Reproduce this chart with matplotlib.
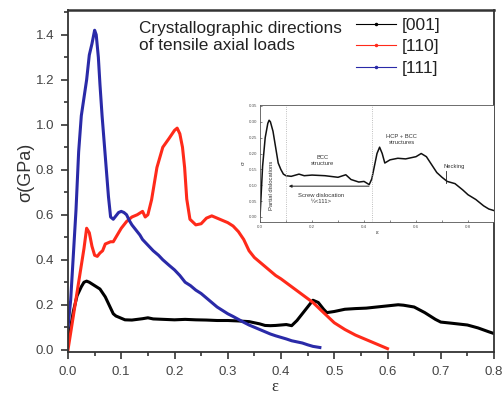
import matplotlib
matplotlib.use("Agg")
import matplotlib.pyplot as plt
from matplotlib.lines import Line2D
from matplotlib.ticker import MultipleLocator
import numpy as np

plt.rcParams['font.family'] = ['Liberation Sans', 'DejaVu Sans']

# ---------------- data ----------------
x111 = [0, 0.005, 0.010, 0.015, 0.020, 0.025, 0.030, 0.035, 0.040, 0.045, 0.050, 0.053,
        0.057, 0.060, 0.064, 0.068, 0.072, 0.076, 0.080, 0.085, 0.090, 0.095, 0.100,
        0.105, 0.110, 0.115, 0.120, 0.130, 0.135, 0.140, 0.150, 0.160, 0.170, 0.178,
        0.190, 0.200, 0.210, 0.220, 0.230, 0.240, 0.250, 0.260, 0.270, 0.280, 0.290,
        0.300, 0.310, 0.320, 0.330, 0.340, 0.350, 0.360, 0.370, 0.380, 0.390, 0.400,
        0.410, 0.420, 0.430, 0.440, 0.450, 0.460, 0.473]
y111 = [0.10, 0.22, 0.42, 0.62, 0.88, 1.04, 1.12, 1.20, 1.31, 1.36, 1.42, 1.40,
        1.30, 1.18, 1.04, 0.92, 0.80, 0.68, 0.59, 0.58, 0.595, 0.61, 0.615,
        0.61, 0.60, 0.575, 0.555, 0.525, 0.51, 0.49, 0.465, 0.44, 0.42, 0.40,
        0.375, 0.355, 0.33, 0.30, 0.285, 0.265, 0.25, 0.23, 0.21, 0.19, 0.175,
        0.16, 0.148, 0.135, 0.122, 0.11, 0.10, 0.09, 0.08, 0.07, 0.062, 0.055,
        0.048, 0.04, 0.035, 0.03, 0.022, 0.015, 0.01]

x110 = [0, 0.01, 0.02, 0.03, 0.035, 0.04, 0.045, 0.05, 0.055, 0.06, 0.065, 0.07, 0.075,
        0.08, 0.085, 0.09, 0.10, 0.11, 0.12, 0.13, 0.14, 0.145, 0.15, 0.157, 0.167,
        0.178, 0.19, 0.20, 0.205, 0.21, 0.215, 0.219, 0.223, 0.229, 0.24, 0.25, 0.26,
        0.27, 0.28, 0.29, 0.30, 0.31, 0.32, 0.33, 0.34, 0.35, 0.36, 0.37, 0.38, 0.39,
        0.40, 0.42, 0.44, 0.46, 0.48, 0.50, 0.52, 0.54, 0.56, 0.58, 0.59, 0.60]
y110 = [0.0, 0.15, 0.30, 0.45, 0.54, 0.52, 0.46, 0.42, 0.415, 0.43, 0.44, 0.47, 0.475,
        0.48, 0.48, 0.50, 0.54, 0.57, 0.59, 0.60, 0.615, 0.59, 0.60, 0.667, 0.81,
        0.90, 0.94, 0.975, 0.985, 0.96, 0.90, 0.81, 0.67, 0.58, 0.555, 0.56, 0.585,
        0.595, 0.585, 0.575, 0.565, 0.55, 0.525, 0.49, 0.44, 0.41, 0.39, 0.37, 0.35, 0.33,
        0.315, 0.28, 0.245, 0.21, 0.165, 0.12, 0.09, 0.065, 0.045, 0.025, 0.015, 0.005]

x001 = [0, 0.005, 0.01, 0.017, 0.025, 0.03, 0.035, 0.04, 0.05, 0.06, 0.07, 0.079, 0.085,
        0.09, 0.10, 0.107, 0.12, 0.13, 0.14, 0.15, 0.16, 0.18, 0.20, 0.22, 0.24, 0.26,
        0.28, 0.30, 0.32, 0.34, 0.36, 0.37, 0.38, 0.39, 0.40, 0.41, 0.42, 0.43, 0.44,
        0.45, 0.46, 0.47, 0.48, 0.486, 0.50, 0.52, 0.54, 0.56, 0.58, 0.60, 0.62, 0.63,
        0.65, 0.67, 0.69, 0.70, 0.72, 0.75, 0.77, 0.79, 0.80]
y001 = [0.04, 0.10, 0.17, 0.24, 0.28, 0.30, 0.305, 0.30, 0.285, 0.27, 0.235, 0.19, 0.16,
        0.15, 0.14, 0.133, 0.132, 0.135, 0.138, 0.142, 0.137, 0.135, 0.133, 0.135, 0.133, 0.132,
        0.13, 0.13, 0.128, 0.125, 0.115, 0.108, 0.107, 0.108, 0.11, 0.112, 0.107, 0.13, 0.16,
        0.19, 0.22, 0.21, 0.18, 0.165, 0.17, 0.18, 0.183, 0.185, 0.19, 0.195, 0.20, 0.198,
        0.19, 0.165, 0.135, 0.123, 0.118, 0.11, 0.097, 0.08, 0.072]

xin = [0.0, 0.005, 0.01, 0.02, 0.03, 0.035, 0.04, 0.05, 0.06, 0.07, 0.08, 0.09, 0.10,
       0.12, 0.15, 0.17, 0.20, 0.25, 0.30, 0.33, 0.35, 0.38, 0.40, 0.42, 0.43, 0.44,
       0.45, 0.46, 0.47, 0.48, 0.50, 0.53, 0.56, 0.60, 0.62, 0.64, 0.66, 0.68, 0.70,
       0.72, 0.75, 0.78, 0.80, 0.83, 0.86, 0.88, 0.90]
yin = [0.0, 0.08, 0.16, 0.25, 0.295, 0.305, 0.30, 0.27, 0.22, 0.17, 0.15, 0.135, 0.13,
       0.128, 0.135, 0.13, 0.132, 0.13, 0.125, 0.133, 0.118, 0.11, 0.112, 0.102, 0.12, 0.16,
       0.20, 0.22, 0.20, 0.17, 0.18, 0.185, 0.183, 0.19, 0.2, 0.19, 0.165, 0.14, 0.125,
       0.112, 0.105, 0.085, 0.07, 0.055, 0.035, 0.025, 0.02]

labels = ['[001]', '[110]', '[111]']
colors = ['#000000', '#ff2a1a', '#2a2aa8']

# ---------------- figure ----------------
fig = plt.figure(figsize=(5.04, 3.96), dpi=100)
ax = fig.add_axes([68/504, 1-352/396, (494-68)/504, (352-10)/396])

tc = '#333333'
ax.plot(x001, y001, color=colors[0], lw=2.2)
ax.plot(x110, y110, color=colors[1], lw=2.2)
ax.plot(x111, y111, color=colors[2], lw=2.2)

ax.set_xlim(0, 0.8)
ax.set_ylim(-0.01, 1.51)
ax.xaxis.set_major_locator(MultipleLocator(0.1))
ax.xaxis.set_minor_locator(MultipleLocator(0.05))
ax.yaxis.set_major_locator(MultipleLocator(0.2))
ax.yaxis.set_minor_locator(MultipleLocator(0.1))
ax.tick_params(which='major', direction='out', length=5, width=1.2, colors=tc,
               labelsize=9.5, labelcolor='#444444', pad=5)
ax.tick_params(which='minor', direction='out', length=3, width=1.2, colors=tc)
ax.set_yticks(np.arange(0, 1.41, 0.2))
ax.yaxis.set_major_formatter(plt.FuncFormatter(lambda v, p: f'{v:.1f}'))
ax.xaxis.set_major_formatter(plt.FuncFormatter(lambda v, p: f'{v:.1f}'))
for s in ax.spines.values():
    s.set_linewidth(1.3)
    s.set_color(tc)
ax.spines['top'].set_linewidth(1.8)

ax.set_ylabel('σ(GPa)', fontsize=13, color='#333333')
ax.yaxis.set_label_coords(-0.08, 0.526)
ax.set_xlabel('ε', fontsize=12, color='#333333', family=['Liberation Serif', 'DejaVu Serif'])
ax.xaxis.set_label_coords(0.486, -0.08)

fig.text(139/504, 1-37/396, 'Crystallographic directions\nof tensile axial loads',
         fontsize=12.4, color='#222222', va='center', ha='left', linespacing=1.2)

handles = [Line2D([], [], color=c, lw=0.8, marker='.', markersize=3) for c in colors]
leg = ax.legend(handles, labels, loc='upper left', bbox_to_anchor=(356/504, 1-18/396),
                bbox_transform=fig.transFigure, frameon=False, fontsize=12.5,
                handlelength=2.3, handletextpad=0.35, labelspacing=0.35, borderpad=0,
                borderaxespad=0, numpoints=1)
for t in leg.get_texts():
    t.set_color('#222222')

# ---------------- inset ----------------
ia = fig.add_axes([260/504, 1-222/396, (494-260)/504, (222-105)/396])
ia.plot(xin, yin, color='#111111', lw=1.1)
ia.set_xlim(0, 0.9)
ia.set_ylim(-0.016, 0.353)
ia.set_xticks([0.0, 0.2, 0.4, 0.6, 0.8])
ia.xaxis.set_minor_locator(MultipleLocator(0.1))
ia.set_yticks(np.arange(0, 0.351, 0.05))
ia.yaxis.set_major_formatter(plt.FuncFormatter(lambda v, p: f'{v:.2f}'))
ia.xaxis.set_major_formatter(plt.FuncFormatter(lambda v, p: f'{v:.1f}'))
ia.tick_params(which='both', direction='in', length=1.5, width=0.5, labelsize=3.2,
               colors='#555555', pad=2)
for s in ia.spines.values():
    s.set_linewidth(0.6)
    s.set_color('#555555')
ia.set_ylabel('σ', fontsize=4.5, labelpad=2, color='#333333')
ia.set_xlabel('ε', fontsize=4.5, labelpad=1, color='#333333')

for xv in (0.1, 0.43):
    ia.axvline(xv, color='#aaaaaa', lw=0.6, ls=':')
ia.annotate('', xy=(0.1, 0.097), xytext=(0.43, 0.097),
            arrowprops=dict(arrowstyle='-|>', color='#222222', lw=0.7, mutation_scale=4))
ts = dict(fontsize=4.2, color='#333333', ha='center', va='center')
ia.text(0.045, 0.10, 'Partial dislocations', rotation=90, **ts)
ia.text(0.24, 0.178, 'BCC\nstructure', **ts)
ia.text(0.235, 0.058, 'Screw dislocation\n½<111>', **ts)
ia.text(0.545, 0.245, 'HCP + BCC\nstructures', **ts)
ia.text(0.745, 0.16, 'Necking', **ts)
ia.plot([0.716, 0.716], [0.145, 0.107], color='#222222', lw=0.6)

fig.savefig('out.png', dpi=100)
